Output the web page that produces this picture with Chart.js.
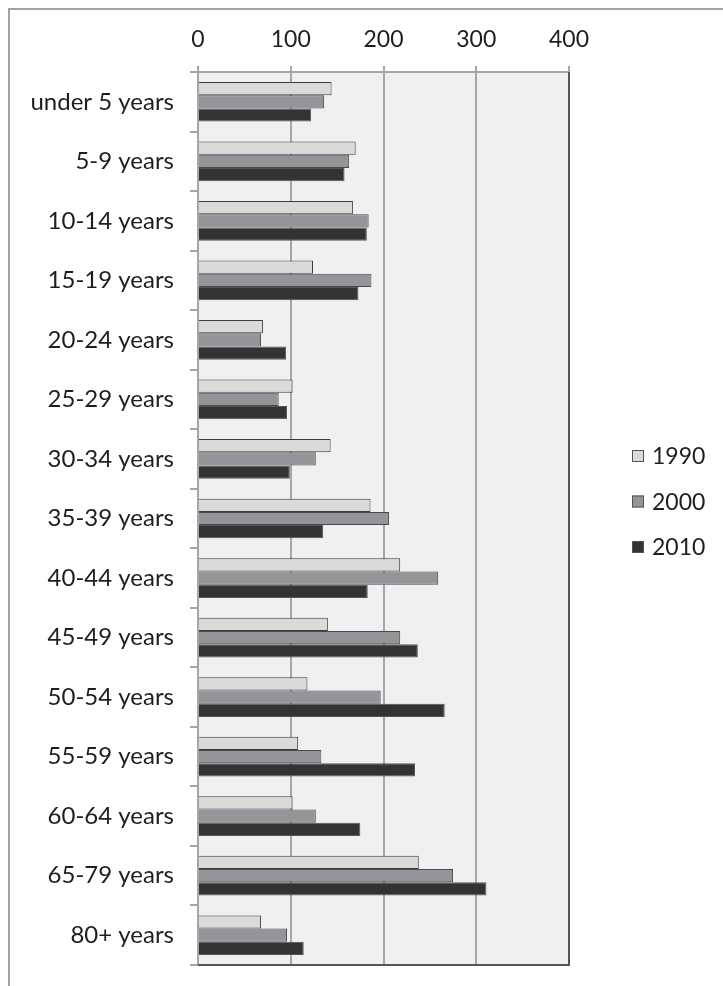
<!DOCTYPE html>
<html>
<head>
<meta charset="utf-8">
<script src="https://cdn.jsdelivr.net/npm/chart.js@4/dist/chart.umd.min.js"></script>
<style>
  html, body { margin: 0; padding: 0; background: #ffffff; }
  #wrap { width: 723px; height: 986px; position: relative; }
</style>
</head>
<body>
<div id="wrap"><canvas id="c" width="723" height="986"></canvas></div>
<script>
// Age groups (category axis) and population counts per census year
const ageGroups = [
  'under 5 years', '5-9 years', '10-14 years', '15-19 years', '20-24 years',
  '25-29 years', '30-34 years', '35-39 years', '40-44 years', '45-49 years',
  '50-54 years', '55-59 years', '60-64 years', '65-79 years', '80+ years'
];
const years = ['1990', '2000', '2010'];
const values1990 = [144, 170, 167, 124, 70, 102, 143, 186, 218, 140, 118, 108, 102, 238, 68];
const values2000 = [136, 163, 184, 187, 68, 87, 127, 206, 259, 218, 197, 133, 127, 275, 96];
const values2010 = [122, 158, 182, 173, 95, 96, 99, 135, 183, 237, 266, 234, 175, 311, 114];
const xTicks = [0, 100, 200, 300, 400];

const fills = ['#dadad8', '#949598', '#333333'];
const edges = ['#3a3a3a', '#4a4a4a', '#555555'];
const FONT = 'Lato, "DejaVu Sans", sans-serif';

// Frame, plot background, right/bottom plot edges and the legend
const decor = {
  id: 'decor',
  beforeDraw(chart) {
    const { ctx, chartArea: a } = chart;
    ctx.save();
    ctx.fillStyle = '#f0f0f0';
    ctx.fillRect(a.left, a.top, a.right - a.left, a.bottom - a.top);
    ctx.strokeStyle = '#a3a3a3';
    ctx.lineWidth = 2;
    ctx.beginPath();
    ctx.moveTo(9, 986);
    ctx.lineTo(9, 9);
    ctx.lineTo(723, 9);
    ctx.stroke();
    ctx.restore();
  },
  afterDraw(chart) {
    const { ctx, chartArea: a } = chart;
    ctx.save();
    ctx.strokeStyle = '#555555';
    ctx.lineWidth = 2;
    ctx.beginPath();
    ctx.moveTo(a.left, a.bottom);
    ctx.lineTo(a.right, a.bottom);
    ctx.lineTo(a.right, a.top);
    ctx.stroke();
    // legend
    const y0 = 456, step = 45.5;
    ctx.font = '23px ' + FONT;
    ctx.textBaseline = 'middle';
    chart.data.datasets.forEach((ds, i) => {
      const y = y0 + i * step;
      ctx.fillStyle = ds.backgroundColor;
      ctx.fillRect(632, y - 6, 12, 12);
      ctx.strokeStyle = '#555555';
      ctx.lineWidth = 1;
      ctx.strokeRect(632.5, y - 5.5, 11, 11);
      ctx.fillStyle = '#1e1e1e';
      ctx.fillText(ds.label, 652, y + 1);
    });
    ctx.restore();
  }
};

new Chart(document.getElementById('c'), {
  type: 'bar',
  data: {
    labels: ageGroups,
    datasets: [
      { label: years[0], data: values1990, backgroundColor: fills[0], borderColor: edges[0], borderWidth: 1 },
      { label: years[1], data: values2000, backgroundColor: fills[1], borderColor: edges[1], borderWidth: 1 },
      { label: years[2], data: values2010, backgroundColor: fills[2], borderColor: edges[2], borderWidth: 1 }
    ]
  },
  options: {
    indexAxis: 'y',
    responsive: false,
    animation: false,
    layout: { padding: { top: 0, right: 154, bottom: 21, left: 0 } },
    datasets: { bar: { categoryPercentage: 0.667, barPercentage: 1 } },
    plugins: { legend: { display: false }, tooltip: { enabled: false } },
    scales: {
      x: {
        position: 'top',
        min: 0, max: 400,
        afterBuildTicks(scale) { scale.ticks = xTicks.map(v => ({ value: v })); },
        afterFit(scale) {
          scale.height = 72;
          scale.paddingLeft = 0;
          scale.paddingRight = 0;
        },
        grid: { color: '#a4a6a9', lineWidth: 2, tickLength: 6, drawTicks: true },
        border: { display: true, color: '#a4a6a9', width: 2 },
        ticks: { color: '#1e1e1e', font: { family: FONT, size: 23 }, padding: 13 }
      },
      y: {
        afterFit(scale) {
          scale.width = 198;
          scale.paddingTop = 0;
          scale.paddingBottom = 0;
        },
        grid: { drawOnChartArea: false, drawTicks: true, tickLength: 8, color: '#a4a6a9', lineWidth: 2, offset: true },
        border: { display: true, color: '#a4a6a9', width: 2 },
        ticks: { color: '#1e1e1e', font: { family: FONT, size: 24 }, padding: 16 }
      }
    }
  },
  plugins: [decor]
});
</script>
</body>
</html>
